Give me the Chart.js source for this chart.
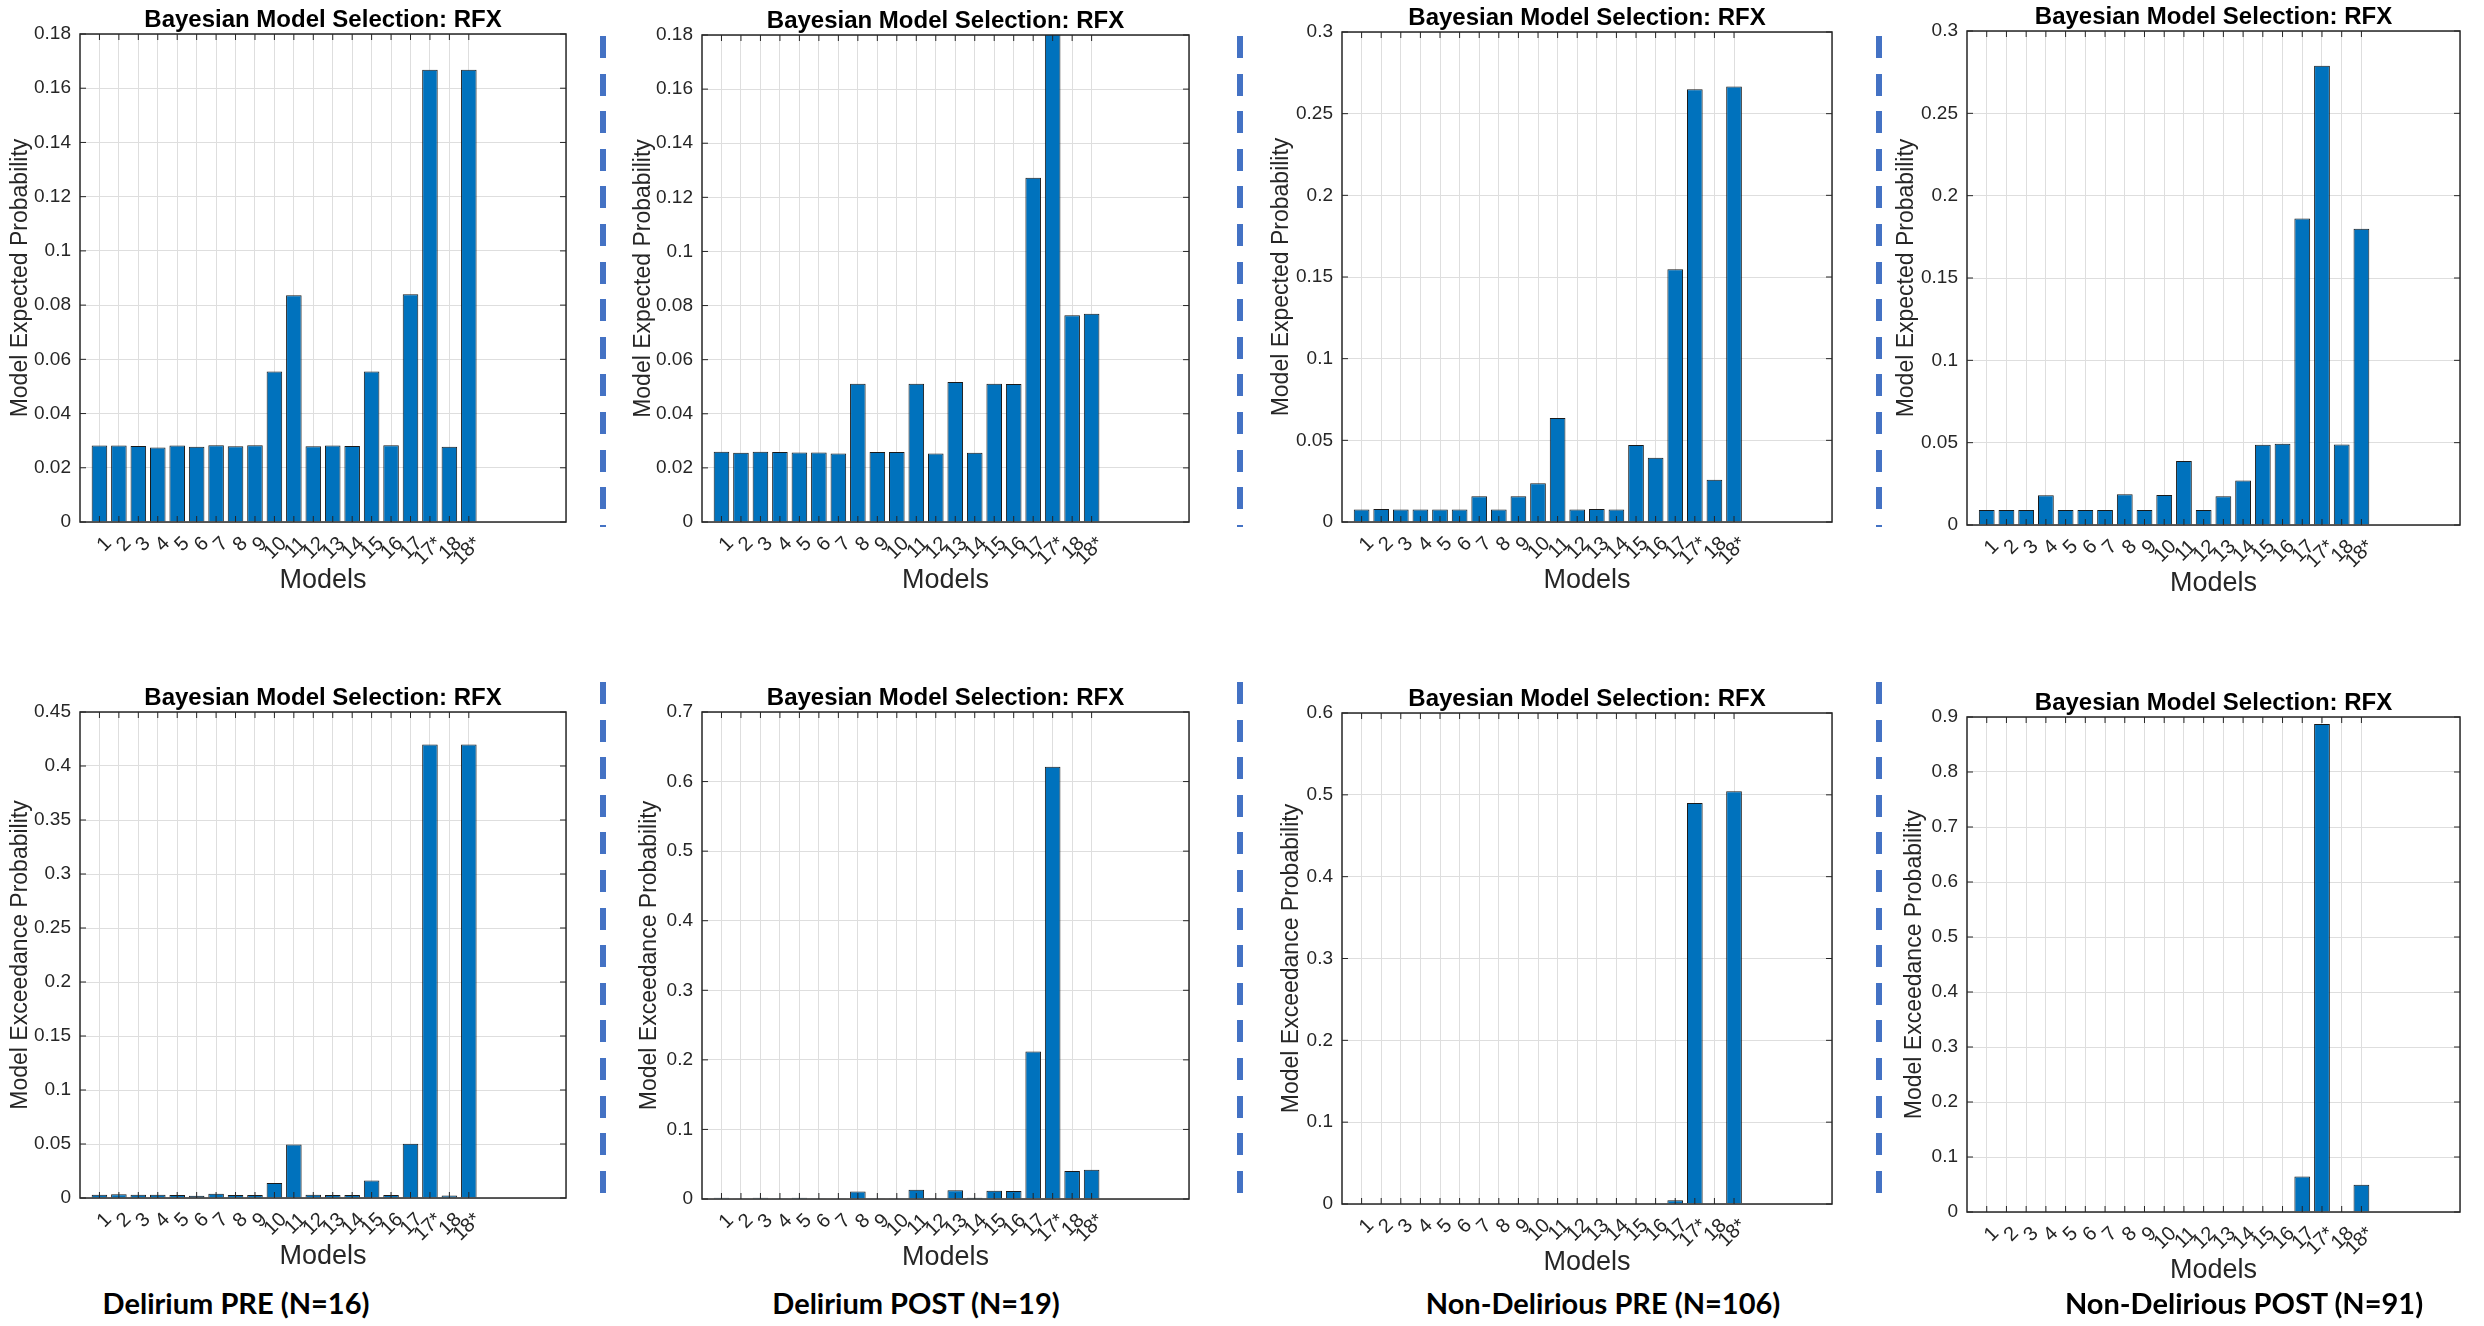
<!DOCTYPE html>
<html>
<head>
<meta charset="utf-8">
<script src="https://cdn.jsdelivr.net/npm/chart.js@4.4.1/dist/chart.umd.min.js"></script>
<style>
  html, body { margin: 0; padding: 0; background: #fff; overflow: hidden; }
  body { width: 2484px; height: 1326px; position: relative; }
  canvas { position: absolute; }
  .sep {
    position: absolute; width: 6px;
    background: repeating-linear-gradient(to bottom, #4472c4 0, #4472c4 22px, transparent 22px, transparent 37.6px);
  }
  .group {
    position: absolute; white-space: nowrap; transform: translate(-50%, -50%);
    font-family: Lato, 'Noto Sans', sans-serif; font-weight: 700; font-size: 29px; color: #000;
  }
</style>
</head>
<body>
<div class="sep" style="left:600px;top:36px;height:491px"></div>
<div class="sep" style="left:1237px;top:36px;height:491px"></div>
<div class="sep" style="left:1876px;top:36px;height:491px"></div>
<div class="sep" style="left:600px;top:682px;height:520px"></div>
<div class="sep" style="left:1237px;top:682px;height:520px"></div>
<div class="sep" style="left:1876px;top:682px;height:520px"></div>
<script>
// model labels on the x axis
const modelLabels = ['1','2','3','4','5','6','7','8','9','10','11','12','13','14','15','16','17','17*','18','18*'];

// model expected probability (top row)
const expectedDelPre  = [0.0282,0.0282,0.0280,0.0275,0.0282,0.0278,0.0283,0.0279,0.0283,0.0555,0.0836,0.0279,0.0282,0.0280,0.0555,0.0283,0.0840,0.1668,0.0278,0.1668];
const expectedDelPost = [0.0260,0.0256,0.0260,0.0259,0.0257,0.0257,0.0253,0.0511,0.0259,0.0259,0.0511,0.0253,0.0517,0.0256,0.0511,0.0510,0.1272,0.1805,0.0764,0.0770];
const expectedNdPre   = [0.0077,0.0080,0.0077,0.0077,0.0077,0.0077,0.0157,0.0077,0.0157,0.0237,0.0636,0.0077,0.0080,0.0077,0.0472,0.0394,0.1548,0.2649,0.0259,0.2666];
const expectedNdPost  = [0.0091,0.0091,0.0091,0.0180,0.0091,0.0091,0.0091,0.0187,0.0091,0.0182,0.0388,0.0091,0.0175,0.0271,0.0487,0.0494,0.1861,0.2789,0.0489,0.1799];

// model exceedance probability (bottom row)
const exceedDelPre  = [0.0030,0.0035,0.0030,0.0030,0.0027,0.0020,0.0039,0.0027,0.0027,0.0139,0.0495,0.0030,0.0027,0.0027,0.0163,0.0027,0.0503,0.4200,0.0023,0.4200];
const exceedDelPost = [0.0018,0.0012,0.0018,0.0012,0.0018,0.0012,0.0012,0.0108,0.0012,0.0012,0.0132,0.0012,0.0126,0.0018,0.0120,0.0114,0.2121,0.6214,0.0403,0.0421];
const exceedNdPre   = [0,0,0,0,0,0,0,0,0,0,0,0,0,0,0,0,0.0046,0.4900,0,0.5044];
const exceedNdPost  = [0,0,0,0,0,0,0,0,0,0,0,0,0,0,0,0,0.0647,0.8873,0,0.0495];

// y axis limits and tick steps
const yMaxTop = [0.18, 0.18, 0.3, 0.3];
const yStepTop = [0.02, 0.02, 0.05, 0.05];
const yMaxBottom = [0.45, 0.7, 0.6, 0.9];
const yStepBottom = [0.05, 0.1, 0.1, 0.1];

const groupNames = ['Delirium PRE (N=16)', 'Delirium POST (N=19)', 'Non-Delirious PRE (N=106)', 'Non-Delirious POST (N=91)'];

// plot boxes (left, right, top, bottom) and y-title offset
const panels = [
  { data: expectedDelPre,  yMax: yMaxTop[0], step: yStepTop[0], yLabel: 'Model Expected Probability', L: 80,   R: 568,  T: 34,  B: 522,  yOff: 59 },
  { data: expectedDelPost, yMax: yMaxTop[1], step: yStepTop[1], yLabel: 'Model Expected Probability', L: 702,  R: 1191, T: 35,  B: 522,  yOff: 58 },
  { data: expectedNdPre,   yMax: yMaxTop[2], step: yStepTop[2], yLabel: 'Model Expected Probability', L: 1342, R: 1834, T: 32,  B: 522,  yOff: 60 },
  { data: expectedNdPost,  yMax: yMaxTop[3], step: yStepTop[3], yLabel: 'Model Expected Probability', L: 1967, R: 2462, T: 31,  B: 525,  yOff: 60 },
  { data: exceedDelPre,  yMax: yMaxBottom[0], step: yStepBottom[0], yLabel: 'Model Exceedance Probability', L: 80,   R: 568,  T: 712, B: 1198, yOff: 59 },
  { data: exceedDelPost, yMax: yMaxBottom[1], step: yStepBottom[1], yLabel: 'Model Exceedance Probability', L: 702,  R: 1191, T: 712, B: 1199, yOff: 52 },
  { data: exceedNdPre,   yMax: yMaxBottom[2], step: yStepBottom[2], yLabel: 'Model Exceedance Probability', L: 1342, R: 1834, T: 713, B: 1204, yOff: 50 },
  { data: exceedNdPost,  yMax: yMaxBottom[3], step: yStepBottom[3], yLabel: 'Model Exceedance Probability', L: 1967, R: 2462, T: 717, B: 1212, yOff: 52 }
];
const groupPos = [[236, 1302], [916, 1302], [1603, 1302], [2244, 1302]];

const axisFont = "'Liberation Sans Narrow', 'Liberation Sans', Arial, sans-serif";
const plainFont = "'Liberation Sans', Arial, sans-serif";
const inkColor = '#262626';
const gridColor = '#dedede';

// x axis runs 0..25 like the matlab plot, with models at 1..20
const axisLabels = [''].concat(modelLabels, ['', '', '', '', '']);

// matlab style box with inward ticks
const boxPlugin = {
  id: 'matlabBox',
  afterDatasetsDraw(chart) {
    const { ctx, chartArea: a, scales: { x, y } } = chart;
    ctx.save();
    ctx.strokeStyle = inkColor;
    ctx.lineWidth = 1;
    ctx.beginPath();
    for (let i = 1; i <= modelLabels.length; i++) {
      const px = x.getPixelForTick(i);
      ctx.moveTo(px, a.bottom); ctx.lineTo(px, a.bottom - 6);
      ctx.moveTo(px, a.top); ctx.lineTo(px, a.top + 6);
    }
    y.ticks.forEach((t, i) => {
      const py = y.getPixelForTick(i);
      ctx.moveTo(a.left, py); ctx.lineTo(a.left + 6, py);
      ctx.moveTo(a.right, py); ctx.lineTo(a.right - 6, py);
    });
    ctx.stroke();
    ctx.lineWidth = 1.5;
    ctx.strokeRect(a.left, a.top, a.right - a.left, a.bottom - a.top);
    ctx.restore();
  }
};

const Y_AXIS_W = 80, TITLE_H = 34, X_AXIS_H = 75, PAD_R = 25;

panels.forEach(p => {
  const canvas = document.createElement('canvas');
  const w = Y_AXIS_W + (p.R - p.L) + PAD_R;
  const h = TITLE_H + (p.B - p.T) + X_AXIS_H;
  canvas.width = w; canvas.height = h;
  canvas.style.width = w + 'px'; canvas.style.height = h + 'px';
  canvas.style.left = (p.L - Y_AXIS_W) + 'px';
  canvas.style.top = (p.T - TITLE_H) + 'px';
  document.body.appendChild(canvas);

  const values = [null].concat(p.data, [null, null, null, null, null]);

  new Chart(canvas, {
    type: 'bar',
    data: {
      labels: axisLabels,
      datasets: [{
        data: values,
        backgroundColor: '#0072BD',
        borderColor: '#1a1a1a',
        borderWidth: 1,
        categoryPercentage: 1,
        barPercentage: 0.8
      }]
    },
    options: {
      responsive: false,
      animation: false,
      devicePixelRatio: 1,
      layout: { padding: { left: 0, right: PAD_R, top: 0, bottom: 0 } },
      plugins: {
        legend: { display: false },
        tooltip: { enabled: false },
        title: {
          display: true,
          text: 'Bayesian Model Selection: RFX',
          fullSize: false,
          color: '#000',
          font: { family: plainFont, size: 24, weight: 'bold', lineHeight: 1 },
          padding: { top: 8, bottom: 2 }
        }
      },
      scales: {
        x: {
          type: 'category',
          offset: false,
          grid: {
            offset: false,
            drawTicks: false,
            color: c => (c.index >= 1 && c.index <= modelLabels.length) ? gridColor : 'rgba(0,0,0,0)'
          },
          border: { display: false },
          ticks: {
            autoSkip: false, minRotation: 45, maxRotation: 45, padding: 10, labelOffset: 9,
            color: inkColor, font: { family: axisFont, size: 20 }
          },
          title: {
            display: true, text: 'Models', color: inkColor,
            font: { family: axisFont, size: 27 }, padding: { top: 0, bottom: 0 }
          },
          afterFit: s => { s.height = X_AXIS_H; }
        },
        y: {
          min: 0,
          max: p.yMax,
          grid: { drawTicks: false, color: gridColor },
          border: { display: false },
          ticks: {
            stepSize: p.step, padding: 9, color: inkColor,
            font: { family: axisFont, size: 19 },
            callback: v => String(+v.toFixed(3))
          },
          title: {
            display: true, text: p.yLabel, color: inkColor,
            font: { family: plainFont, size: 23 },
            padding: { top: Y_AXIS_W - p.yOff - 13.8, bottom: 0 }
          },
          afterFit: s => { s.width = Y_AXIS_W; }
        }
      }
    },
    plugins: [boxPlugin]
  });
});

groupNames.forEach((name, i) => {
  const d = document.createElement('div');
  d.className = 'group';
  d.textContent = name;
  d.style.left = groupPos[i][0] + 'px';
  d.style.top = groupPos[i][1] + 'px';
  document.body.appendChild(d);
});
</script>
</body>
</html>
